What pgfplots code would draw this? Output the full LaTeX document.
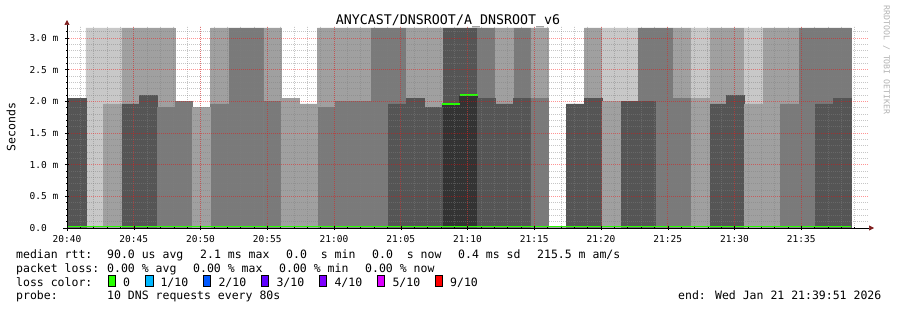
\documentclass[border=0pt]{standalone}
\usepackage{fontspec}
\setmainfont{DejaVu Sans Mono}
\usepackage{pgfplots}
\pgfplotsset{compat=1.18}
\usepackage{pgfplotstable}
\usetikzlibrary{arrows.meta}
\definecolor{gA}{HTML}{333333}
\definecolor{gB}{HTML}{555555}
\definecolor{gC}{HTML}{7A7A7A}
\definecolor{gD}{HTML}{A0A0A0}
\definecolor{gE}{HTML}{C8C8C8}
\definecolor{lossA}{HTML}{26FF00}
\definecolor{lossB}{HTML}{00B8FF}
\definecolor{lossC}{HTML}{0059FF}
\definecolor{lossD}{HTML}{5E00FF}
\definecolor{lossE}{HTML}{7E00FF}
\definecolor{lossF}{HTML}{DD00FF}
\definecolor{lossG}{HTML}{FF0000}
\definecolor{arrowred}{HTML}{802020}

% slot start time (s after 20:40), upper smoke per shade (top), lower smoke per shade (height)
\pgfplotstableread{
t    u1   u2   u3   u4   u5   l1   l2   l3   l4   l5
5    0    0    0    0    0    0    2.05 0    0    0
85   0    0    0    0    3.16 0    0    0    0    0
165  0    0    0    0    3.16 0    0    0    1.96 0
245  0    0    0    3.16 0    0    1.96 0    0    0
325  0    0    0    3.16 0    0    2.10 0    0    0
405  0    0    0    3.16 0    0    0    1.90 0    0
485  0    0    0    0    0    0    0    2.00 0    0
565  0    0    0    0    0    0    0    0    1.90 0
645  0    0    0    3.16 0    0    0    1.96 0    0
725  0    0    3.16 0    0    0    0    0    0    0
805  0    0    3.16 0    0    0    0    0    0    0
885  0    0    0    3.16 0    0    0    2.00 0    0
965  0    0    0    0    0    0    0    0    2.05 0
1045 0    0    0    0    0    0    0    0    1.96 0
1125 0    0    0    3.16 0    0    0    1.90 0    0
1205 0    0    0    3.16 0    0    0    2.00 0    0
1285 0    0    0    3.16 0    0    0    2.00 0    0
1365 0    0    3.16 0    0    0    0    0    0    0
1445 0    0    3.16 0    0    0    1.96 0    0    0
1525 0    0    0    3.16 0    0    2.05 0    0    0
1605 0    0    0    3.16 0    0    1.90 0    0    0
1685 0    3.16 0    0    0    1.96 0    0    0    0
1765 0    3.16 0    0    0    2.10 0    0    0    0
1845 0    0    3.16 0    0    0    2.05 0    0    0
1925 0    0    0    3.16 0    0    1.96 0    0    0
2005 0    0    3.16 0    0    0    2.05 0    0    0
2085 0    0    0    3.16 0    0    0    2.05 0    0
2165 0    0    0    0    0    0    0    0    0    0
2245 0    0    0    0    0    0    1.96 0    0    0
2325 0    0    0    3.16 0    0    2.05 0    0    0
2405 0    0    0    0    3.16 0    0    0    2.00 0
2485 0    0    0    0    3.16 0    2.00 0    0    0
2565 0    0    3.16 0    0    0    2.00 0    0    0
2645 0    0    3.16 0    0    0    0    0    0    0
2725 0    0    0    3.16 0    0    0    2.05 0    0
2805 0    0    0    0    3.16 0    0    0    2.05 0
2885 0    0    0    3.16 0    0    1.96 0    0    0
2965 0    0    0    3.16 0    0    2.10 0    0    0
3045 0    0    0    0    3.16 0    0    0    1.96 0
3125 0    0    0    3.16 0    0    0    0    0    0
3205 0    0    0    3.16 0    0    0    1.96 0    0
3285 0    0    3.16 0    0    0    0    0    0    0
3365 0    0    3.16 0    0    0    1.96 0    0    0
3445 0    0    3.16 0    0    0    2.05 0    0    0
3525 0    0    0    0    0    0    0    0    0    0
}\smoke

\newcommand{\legfont}{\fontsize{11.5bp}{13bp}\selectfont}
\begin{document}
\begin{tikzpicture}
\path[use as bounding box] (0,0) rectangle (897bp,310bp);
\begin{axis}[
  at={(67bp,82bp)}, anchor=south west,
  scale only axis, width=801bp, height=202bp,
  xmin=0, xmax=3600, ymin=0, ymax=3.19,
  axis lines=left,
  axis line style={-{Triangle[length=5bp,width=5bp,color=arrowred]}, line width=0.7bp, black},
  x axis line style={shorten >=-6bp, shorten <=-4bp},
  y axis line style={shorten >=-6bp, shorten <=-3bp},
  xtick={0,300,...,3300},
  xticklabels={20:40,20:45,20:50,20:55,21:00,21:05,21:10,21:15,21:20,21:25,21:30,21:35},
  minor xtick={60,120,...,3540},
  ytick={0,0.5,1,1.5,2,2.5,3},
  yticklabels={0.0\hphantom{0m},0.5 m,1.0 m,1.5 m,2.0 m,2.5 m,3.0 m},
  minor ytick={0.1,0.2,0.3,0.4,0.6,0.7,0.8,0.9,1.1,1.2,1.3,1.4,1.6,1.7,1.8,1.9,2.1,2.2,2.3,2.4,2.6,2.7,2.8,2.9,3.1},
  grid=both,
  major grid style={red, opacity=0.42, dash pattern=on 1bp off 1bp, line width=0.7bp},
  minor grid style={gray, opacity=0.45, dash pattern=on 1bp off 1bp, line width=0.7bp},
  axis on top,
  tick align=center, major tick length=4bp, minor tick length=2bp,
  tick style={black, line width=0.5bp},
  ticklabel style={font=\fontsize{9.5bp}{11bp}\selectfont, inner sep=0pt},
  xticklabel style={anchor=north, yshift=-5bp},
  yticklabel style={anchor=east, xshift=-6.5bp},
  every axis plot/.append style={line join=miter},
]
\addplot[const plot, fill=gA, draw=gA, line width=0.5bp] table[x=t,y=u1]{\smoke} \closedcycle;
\addplot[const plot, fill=gB, draw=gB, line width=0.5bp] table[x=t,y=u2]{\smoke} \closedcycle;
\addplot[const plot, fill=gC, draw=gC, line width=0.5bp] table[x=t,y=u3]{\smoke} \closedcycle;
\addplot[const plot, fill=gD, draw=gD, line width=0.5bp] table[x=t,y=u4]{\smoke} \closedcycle;
\addplot[const plot, fill=gE, draw=gE, line width=0.5bp] table[x=t,y=u5]{\smoke} \closedcycle;
\addplot[const plot, fill=gA, draw=gA, line width=0.5bp] table[x=t,y=l1]{\smoke} \closedcycle;
\addplot[const plot, fill=gB, draw=gB, line width=0.5bp] table[x=t,y=l2]{\smoke} \closedcycle;
\addplot[const plot, fill=gC, draw=gC, line width=0.5bp] table[x=t,y=l3]{\smoke} \closedcycle;
\addplot[const plot, fill=gD, draw=gD, line width=0.5bp] table[x=t,y=l4]{\smoke} \closedcycle;
\addplot[const plot, fill=gE, draw=gE, line width=0.5bp] table[x=t,y=l5]{\smoke} \closedcycle;
% median rtt
\addplot[lossA, line width=1.4bp] coordinates {(5,0.022) (3525,0.022)};
\addplot[lossA, line width=2bp] coordinates {(1685,1.96) (1765,1.96)};
\addplot[lossA, line width=2bp] coordinates {(1765,2.10) (1845,2.10)};
\end{axis}
% title and labels
\node[anchor=base, inner sep=0pt, font=\fontsize{13.3bp}{15bp}\selectfont] at (448bp,285bp) {ANYCAST/DNSROOT/A\_DNSROOT\_v6};
\node[rotate=90, inner sep=0pt, font=\fontsize{11.5bp}{13bp}\selectfont] at (11bp,183bp) {Seconds};
\node[rotate=-90, inner sep=0pt, text=black!30, font=\fontsize{8.2bp}{9bp}\selectfont] at (886.5bp,250bp) {RRDTOOL / TOBI OETIKER};
% legend lines
\begin{scope}[every node/.style={anchor=base west, inner sep=0pt, font=\legfont}]
\node at (16bp,51.7bp) {median rtt:};
\node at (107bp,51.7bp) {90.0 us avg};
\node at (200bp,51.7bp) {2.1 ms max};
\node at (286bp,51.7bp) {0.0\ \ s min};
\node at (372bp,51.7bp) {0.0\ \ s now};
\node at (458bp,51.7bp) {0.4 ms sd};
\node at (537bp,51.7bp) {215.5 m am/s};
\node at (16bp,37.7bp) {packet loss:};
\node at (107bp,37.7bp) {0.00 \% avg};
\node at (193bp,37.7bp) {0.00 \% max};
\node at (279bp,37.7bp) {0.00 \% min};
\node at (365bp,37.7bp) {0.00 \% now};
\node at (16bp,24bp) {loss color:};
\node at (123bp,24bp) {0};
\node at (160.3bp,24bp) {1/10};
\node at (218.3bp,24bp) {2/10};
\node at (276.3bp,24bp) {3/10};
\node at (334.3bp,24bp) {4/10};
\node at (392.3bp,24bp) {5/10};
\node at (450bp,24bp) {9/10};
\node at (16bp,10.3bp) {probe:};
\node at (107bp,10.3bp) {10 DNS requests every 80s};
\node at (678bp,10.3bp) {end: Wed Jan 21 21:39:51 2026};
\end{scope}
\begin{scope}[line width=0.7bp]
\filldraw[fill=lossA, draw=black] (108.3bp,23.5bp) rectangle (115.7bp,34.3bp);
\filldraw[fill=lossB, draw=black] (145.7bp,23.5bp) rectangle (153.0bp,34.3bp);
\filldraw[fill=lossC, draw=black] (203.3bp,23.5bp) rectangle (210.7bp,34.3bp);
\filldraw[fill=lossD, draw=black] (261.3bp,23.5bp) rectangle (268.7bp,34.3bp);
\filldraw[fill=lossE, draw=black] (319.3bp,23.5bp) rectangle (326.7bp,34.3bp);
\filldraw[fill=lossF, draw=black] (377.3bp,23.5bp) rectangle (384.7bp,34.3bp);
\filldraw[fill=lossG, draw=black] (435.3bp,23.5bp) rectangle (442.7bp,34.3bp);
\end{scope}
\end{tikzpicture}
\end{document}
